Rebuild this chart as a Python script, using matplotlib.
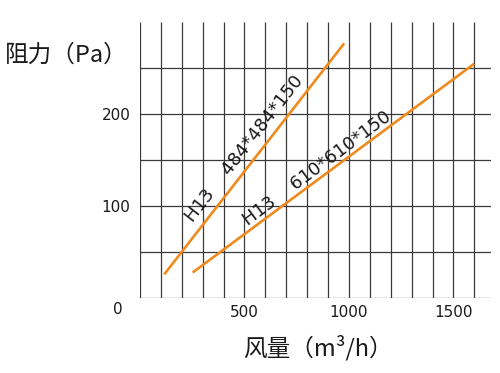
import numpy as np
import matplotlib
matplotlib.use("Agg")
import matplotlib.pyplot as plt

plt.rcParams['font.family'] = 'DejaVu Sans'
cjk = ['Noto Sans CJK SC', 'DejaVu Sans']

# data
flow_484 = [116, 977]        # m3/h
drop_484 = [26, 277]         # Pa
flow_610 = [252, 1600]
drop_610 = [28, 255]

label_484 = "H13    484*484*150"
label_610 = "H13    610*610*150"
label_pos_484 = (500, 162)
label_pos_610 = (846, 141)

x_ticks = [500, 1000, 1500]
y_ticks = [100, 200]
x_grid = np.arange(0, 1700, 100)
y_grid = np.arange(0, 300, 50)

line_color = '#ee8a1e'
grid_color = '#3a3a3a'
text_color = '#1a1a1a'


def main():
    fig = plt.figure(figsize=(5.0, 3.73), dpi=100)
    ax = fig.add_axes([0.28, 0.2003, 0.702, 0.740])
    ax.set_xlim(0, 1680)
    ax.set_ylim(0, 300)
    for s in ax.spines.values():
        s.set_visible(False)

    # grid: vertical lines run full height, horizontal ones a bit past the last column
    ax.vlines(x_grid, 0, 300, color=grid_color, lw=0.9, zorder=1)
    ax.hlines(y_grid, 0, 1680, color=grid_color, lw=0.9, zorder=1)

    ax.plot(flow_484, drop_484, color=line_color, lw=1.9, zorder=3,
            solid_capstyle='butt')
    ax.plot(flow_610, drop_610, color=line_color, lw=1.9, zorder=3,
            solid_capstyle='butt')

    ax.set_xticks(x_ticks)
    ax.set_yticks(y_ticks)
    ax.tick_params(length=0, labelsize=11, colors=text_color)
    ax.tick_params(axis='x', pad=5)
    ax.tick_params(axis='y', pad=7)
    ax.text(-105, -12.7, "0", ha='center', va='center', fontsize=11,
            color=text_color, clip_on=False)

    # angle of each line on screen
    fig.canvas.draw()
    for xs, ys, txt, pos in [(flow_484, drop_484, label_484, label_pos_484),
                             (flow_610, drop_610, label_610, label_pos_610)]:
        p = ax.transData.transform(np.column_stack([xs, ys]))
        ang = np.degrees(np.arctan2(p[1, 1] - p[0, 1], p[1, 0] - p[0, 0]))
        ax.text(pos[0], pos[1], txt, rotation=ang, rotation_mode='anchor',
                ha='center', va='center', fontsize=13, color=text_color,
                zorder=4)

    fig.text(5 / 500, 1 - 55 / 373, "阻力（Pa）", ha='left', va='center',
             fontsize=17, color=text_color, family=cjk)
    fig.text(318 / 500, 1 - 348 / 373, "风量（m³/h）", ha='center', va='center',
             fontsize=17, color=text_color, family=cjk)

    fig.savefig("out.png", dpi=100)


if __name__ == "__main__":
    main()
